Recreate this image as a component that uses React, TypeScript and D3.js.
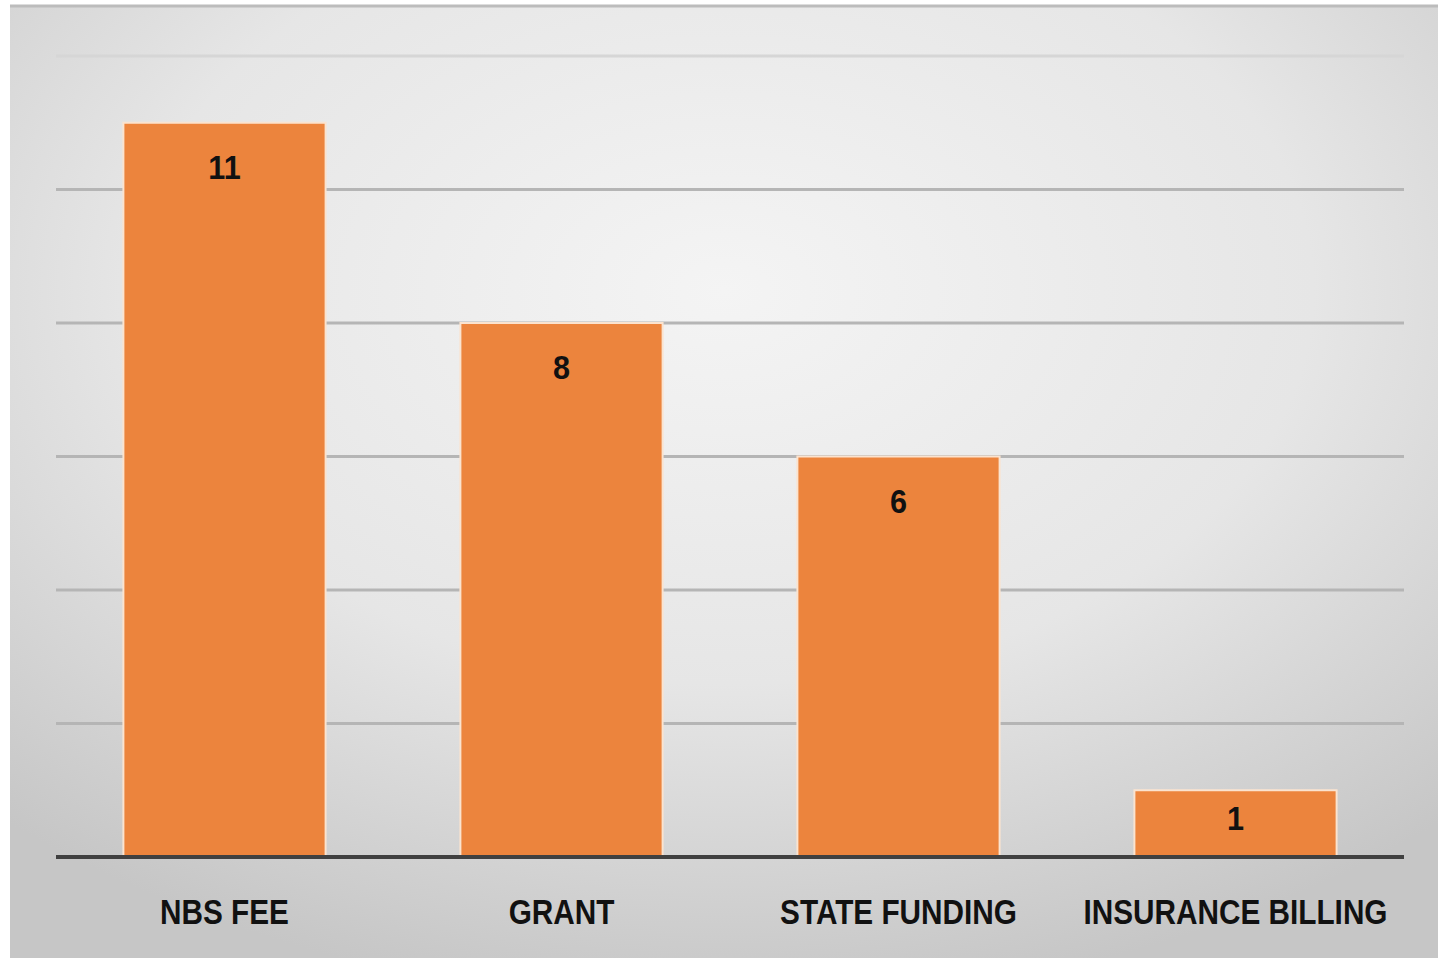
import React from 'react'
import * as d3 from 'd3'

// chart data
const categories = ['NBS FEE', 'GRANT', 'STATE FUNDING', 'INSURANCE BILLING']
const values = [11, 8, 6, 1]
const yTicks = [0, 2, 4, 6, 8, 10, 12]

const App = () => {
    const width = 1449,
        height = 959
    const plot = { left: 56, right: 1404, top: 56, bottom: 857 }

    const x = d3.scaleBand()
        .domain(categories)
        .range([plot.left, plot.right])
        .paddingInner(0.4)
        .paddingOuter(0.2)

    const y = d3.scaleLinear()
        .domain([0, 12])
        .range([plot.bottom, plot.top])

    const font = "'Liberation Sans', Arial, sans-serif"
    // narrow the text a bit to get close to Calibri's width
    const squeeze = (cx: number, cy: number, k: number) =>
        `translate(${cx},${cy}) scale(${k},1)`

    return (
        <svg width={width} height={height} style={{ position: 'absolute', left: 0, top: 0, background: '#fff' }}>
            <defs>
                <radialGradient id="bg" cx="0.5" cy="0.3" r="0.75">
                    <stop offset="0" stopColor="#f4f4f4" />
                    <stop offset="0.55" stopColor="#e6e6e6" />
                    <stop offset="1" stopColor="#c6c6c6" />
                </radialGradient>
            </defs>
            {/* background panel */}
            <rect x={10} y={5} width={1428} height={953} fill="url(#bg)" />
            <line x1={10} x2={1438} y1={6} y2={6} stroke="#bcbcbc" strokeWidth={3} />

            {/* gridlines */}
            {yTicks.filter(t => t > 0).map(t => (
                <line key={t} x1={plot.left} x2={plot.right} y1={y(t)} y2={y(t)}
                    stroke={t === 12 ? '#d6d6d6' : '#b5b5b5'} strokeWidth={3} />
            ))}

            {/* bars */}
            {categories.map((c, i) => {
                const cx = (x(c) as number) + x.bandwidth() / 2
                const ly = Math.min(y(values[i]) + 56, y(0) - 27)
                return (
                    <g key={c}>
                        <rect x={x(c)} y={y(values[i])} width={x.bandwidth()} height={y(0) - y(values[i])}
                            fill="#ec843d" stroke="#fbe3cf" strokeWidth={2} />
                        <text transform={squeeze(cx, ly, 0.9)}
                            textAnchor="middle" fontFamily={font} fontWeight="bold" fontSize={34} fill="#111">
                            {values[i]}
                        </text>
                        <text transform={squeeze(cx, 924, 0.85)}
                            textAnchor="middle" fontFamily={font} fontWeight="bold" fontSize={35} fill="#111">
                            {c}
                        </text>
                    </g>
                )
            })}

            {/* x axis */}
            <line x1={plot.left} x2={plot.right} y1={y(0)} y2={y(0)} stroke="#404040" strokeWidth={4} />
        </svg>
    )
}

export default App
